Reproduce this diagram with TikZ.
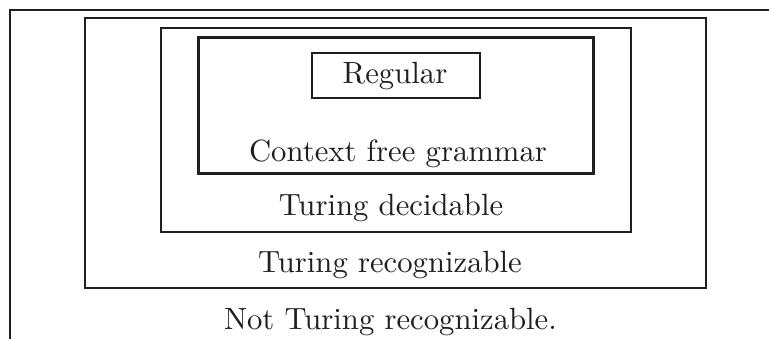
\documentclass[tikz,border=0pt]{standalone}
\usepackage{fontspec}
\newfontfamily\tenrm{lmroman10-regular}[Extension=.otf]
\begin{document}
\begin{tikzpicture}[x=1pt,y=-1pt,
  setbox/.style={draw=black!88, line width=2pt, inner sep=0pt},
  cfgbox/.style={draw=black!88, line width=3pt, inner sep=0pt},
  lbl/.style={anchor=base, inner sep=0pt, font=\tenrm\fontsize{30.7}{36}\selectfont, text=black!88}]
\useasboundingbox (0,0) rectangle (769,339);
% outer (cropped) frame
\coordinate (ftr) at (772,10);
\coordinate (ftl) at (10,10);
\coordinate (fbl) at (10,342);
\draw[draw=black!88, line width=2pt] (ftr) -- (ftl) -- (fbl);
% nested boxes
\node[setbox, minimum width=621pt, minimum height=270pt] (rec) at (395.5,153) {};
\node[setbox, minimum width=470pt, minimum height=204pt] (dec) at (396,130) {};
\node[cfgbox, minimum width=395pt, minimum height=136.5pt] (cfg) at (396,105.75) {};
\node[setbox, minimum width=168pt, minimum height=44.7pt] (reg) at (396,75.35) {};
% labels
\node[lbl] (tReg) at (395,84) {Regular};
\node[lbl] (tCfg) at (398,162) {Context free grammar};
\node[lbl] (tDec) at (391,216) {Turing decidable};
\node[lbl] (tRec) at (390,273) {Turing recognizable};
\node[lbl] (tNot) at (390.5,330) {Not Turing recognizable.};
\end{tikzpicture}
\end{document}
